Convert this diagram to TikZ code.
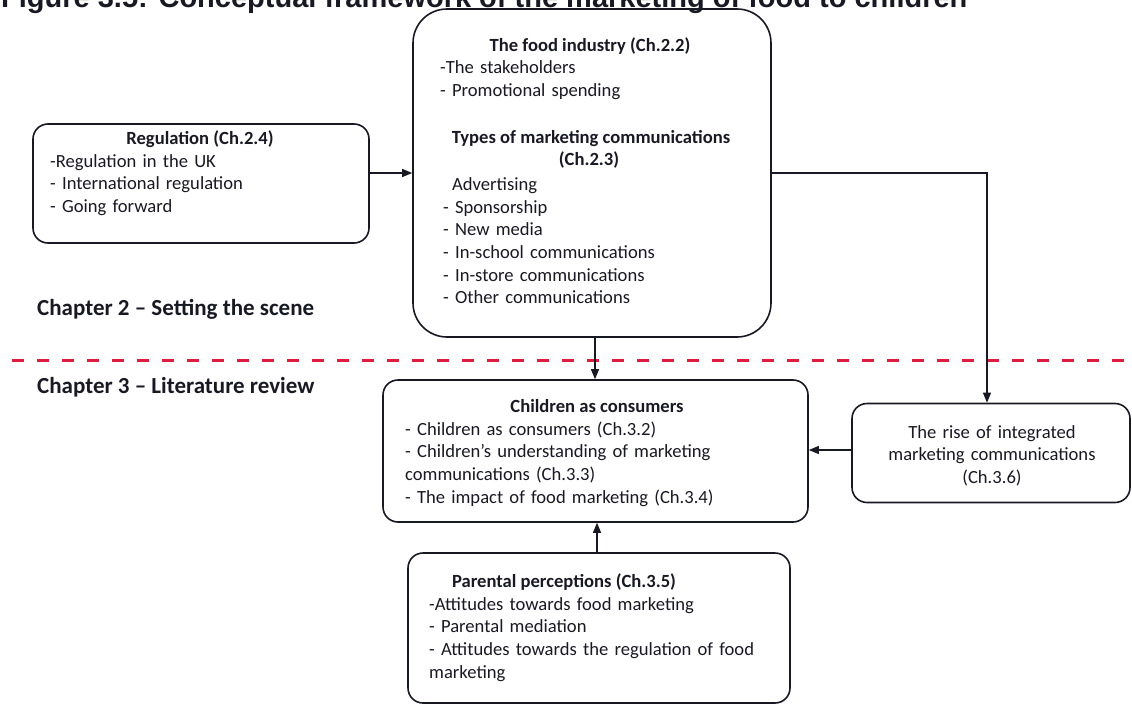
\documentclass[tikz,border=0pt]{standalone}
\usepackage{fontspec}
\setmainfont{Carlito}
\newfontfamily\headfont{Liberation Sans}
\usetikzlibrary{arrows.meta}
\definecolor{ink}{RGB}{25,25,35}
\definecolor{divider}{RGB}{222,28,62}
\tikzset{
  box/.style={draw=ink, line width=1.6pt, rounded corners=15pt, inner sep=0pt},
  link/.style={draw=ink, line width=1.2pt, -{Triangle[length=10pt,width=8pt]}},
  body/.style={inner sep=0pt, text=ink, font=\fontsize{18.6}{22.7}\selectfont},
  lines/.style={body, anchor=base west, text width=#1, align=left},
  heading/.style={body, anchor=base, font=\fontsize{18.6}{22.7}\selectfont\bfseries},
  chapter/.style={inner sep=0pt, anchor=base west, text=ink, font=\fontsize{23}{26}\selectfont\bfseries},
}
\begin{document}
\begin{tikzpicture}[x=1pt,y=-1pt]
\useasboundingbox (0,0) rectangle (1132,706);
\clip (0,0) rectangle (1132,706);

% figure caption, running off the top edge
\node[inner sep=0pt, anchor=base west, text=ink, font=\headfont\fontsize{29}{34}\selectfont\bfseries]
  (caption) at (1,8) {Figure 3.5: Conceptual framework of the marketing of food to children};

% boxes
\node[box, minimum width=336pt, minimum height=119pt] (reg) at (201,183.5) {};
\node[box, rounded corners=34pt, minimum width=358pt, minimum height=328pt] (food) at (592,173) {};
\node[box, minimum width=425pt, minimum height=142pt] (kids) at (595.5,451) {};
\node[box, minimum width=278pt, minimum height=99pt] (rise) at (991,453) {};
\node[box, minimum width=382pt, minimum height=150pt] (parents) at (599,628) {};

% regulation
\node[heading] (regT) at (200,144) {Regulation (Ch.2.4)};
\node[lines=320pt] (regL) at (50,167) {-Regulation in the UK\\- International regulation\\- Going forward};

% food industry
\node[heading] (foodT) at (590,52) {The food industry (Ch.2.2)};
\node[lines=300pt] (foodL) at (440,74) {-The stakeholders\\- Promotional spending};
\node[heading] (typesT) at (591,143) {Types of marketing communications};
\node[heading] (typesC) at (589,165) {(Ch.2.3)};
\node[lines=300pt] (typesA) at (452,190) {Advertising};
\node[lines=300pt] (typesL) at (443,213) {- Sponsorship\\- New media\\- In-school communications\\- In-store communications\\- Other communications};

% children as consumers
\node[heading] (kidsT) at (597,412) {Children as consumers};
\node[lines=400pt] (kidsL) at (405,435) {- Children as consumers (Ch.3.2)\\- Children's understanding of marketing\\communications (Ch.3.3)\\- The impact of food marketing (Ch.3.4)};

% integrated marketing communications
\node[body, anchor=base, align=center, text width=260pt] (riseT) at (992,438)
  {The rise of integrated\\marketing communications\\(Ch.3.6)};

% parental perceptions
\node[heading] (parT) at (564,587) {Parental perceptions (Ch.3.5)};
\node[lines=360pt] (parL) at (429,610) {-Attitudes towards food marketing\\- Parental mediation\\- Attitudes towards the regulation of food\\marketing};

% chapter labels and divider
\node[chapter] (ch2) at (37,315) {Chapter 2 -- Setting the scene};
\node[chapter] (ch3) at (37,393) {Chapter 3 -- Literature review};
\coordinate (divL) at (12,360);
\coordinate (divR) at (1124,360);
\draw[divider, line width=3pt, dash pattern=on 12pt off 13pt] (divL) -- (divR);

% connectors
\coordinate (upper) at (0,173);
\coordinate (side) at (0,450);
\coordinate (stem) at (595,0);
\coordinate (stemB) at (597,0);
\coordinate (drop) at (987,0);
\draw[link] (reg.east |- upper) -- (food.west |- upper);
\draw[link] (food.south -| stem) -- (kids.north -| stem);
\draw[link] (food.east |- upper) -| (rise.north -| drop);
\draw[link] (rise.west |- side) -- (kids.east |- side);
\draw[link] (parents.north -| stemB) -- (kids.south -| stemB);
\end{tikzpicture}
\end{document}
